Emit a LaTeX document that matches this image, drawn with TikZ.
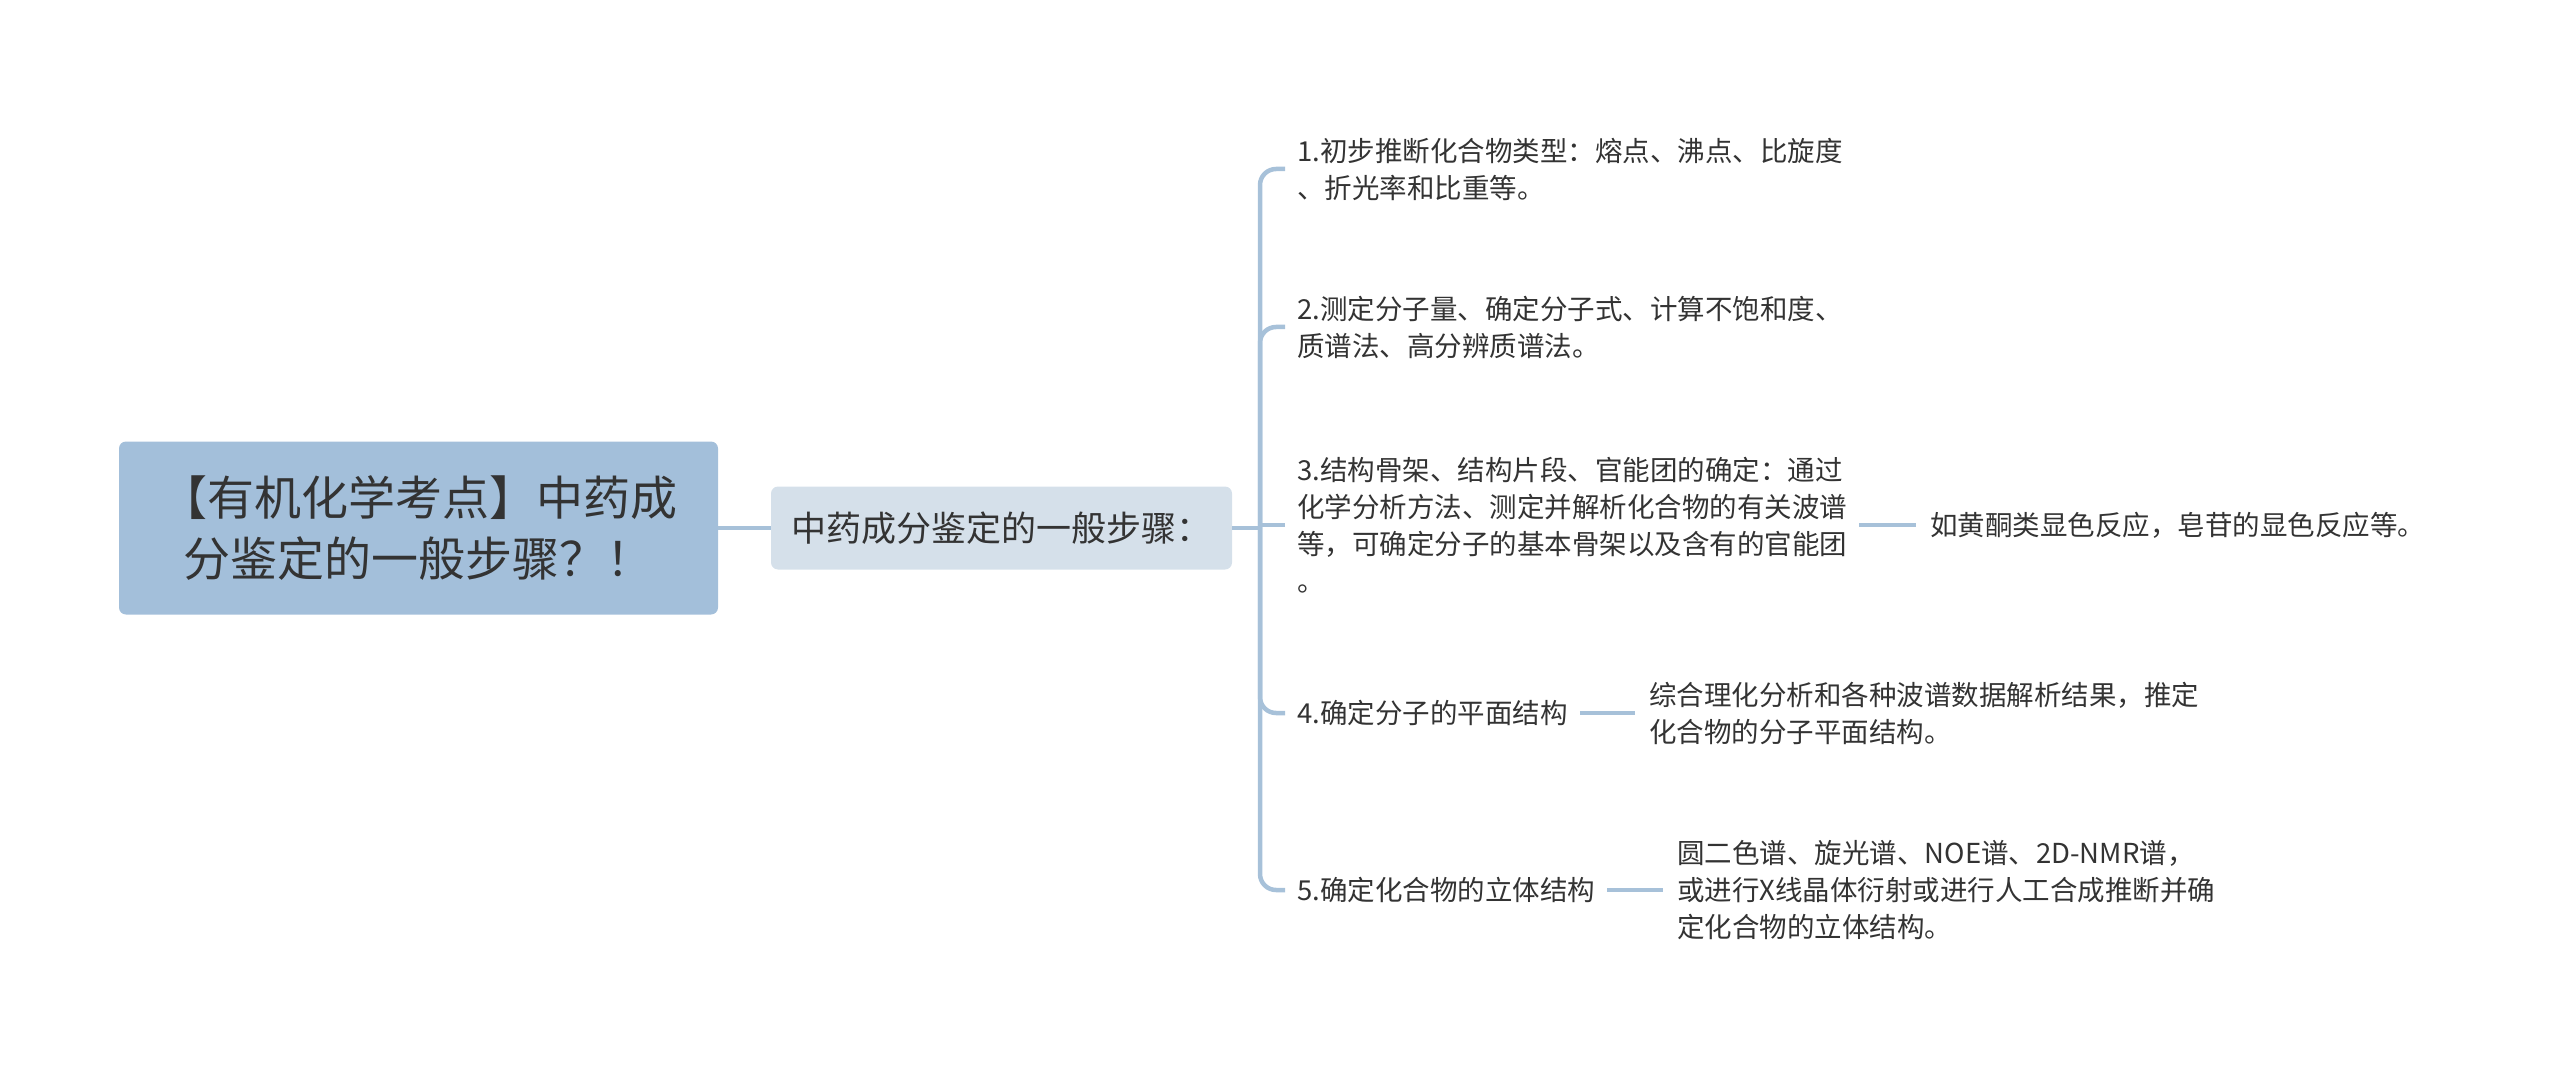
\documentclass[tikz,border=0pt]{standalone}
\usepackage{fontspec}
\setmainfont{Noto Sans CJK SC}
\usetikzlibrary{positioning}
\definecolor{rootfill}{HTML}{A3BFDA}
\definecolor{subfill}{HTML}{D5E0EA}
\definecolor{linkblue}{HTML}{A7C1D9}
\definecolor{textgray}{HTML}{333333}

\begin{document}
\begin{tikzpicture}[x=1pt, y=-1pt,
    rootbox/.style={rectangle, fill=rootfill, rounded corners=7pt, minimum width=599pt, minimum height=173pt, align=center, font=\fontsize{47}{61}\selectfont},
    subbox/.style={rectangle, fill=subfill, rounded corners=7pt, minimum width=461pt, minimum height=83pt, align=center, font=\fontsize{35}{40}\selectfont},
    leaf/.style={anchor=west, align=left, inner xsep=12pt, inner ysep=0pt, font=\fontsize{27.5}{37}\selectfont},
    link/.style={draw=linkblue, line width=4.5pt},
    every node/.style={text=textgray}
]
    \useasboundingbox (0,0) rectangle (2560,1075);

    \node[rootbox] (root) at (418.5,528) {【有机化学考点】中药成\\分鉴定的一般步骤？！};
    \node[subbox] (sub) at (1001.5,528) {中药成分鉴定的一般步骤：};
    \coordinate (spine) at (1260,528);

    \node[leaf] (s1) at (1285,169) {1.初步推断化合物类型：熔点、沸点、比旋度\\、折光率和比重等。};
    \node[leaf] (s2) at (1285,327) {2.测定分子量、确定分子式、计算不饱和度、\\质谱法、高分辨质谱法。};
    \node[leaf] (s3) at (1285,525) {3.结构骨架、结构片段、官能团的确定：通过\\化学分析方法、测定并解析化合物的有关波谱\\等，可确定分子的基本骨架以及含有的官能团\\。};
    \node[leaf] (s4) at (1285,713) {4.确定分子的平面结构};
    \node[leaf] (s5) at (1285,890) {5.确定化合物的立体结构};

    \node[leaf, inner xsep=14pt] (n3) at (1916,525) {如黄酮类显色反应，皂苷的显色反应等。};
    \node[leaf, inner xsep=14pt] (n4) at (1635,713) {综合理化分析和各种波谱数据解析结果，推定\\化合物的分子平面结构。};
    \node[leaf, inner xsep=14pt] (n5) at (1663,890) {圆二色谱、旋光谱、NOE谱、2D-NMR谱，\\或进行X线晶体衍射或进行人工合成推断并确\\定化合物的立体结构。};

    \draw[link] (root) -- (sub);
    \draw[link] (sub) -- (spine);
    \draw[link, rounded corners=16pt] (s1.west) -| (spine) |- (s5.west);
    \draw[link, rounded corners=16pt] (spine) |- (s2.west);
    \draw[link, rounded corners=16pt] (spine) |- (s4.west);
    \draw[link] (s3.west) -- (s3.west -| spine);
    \draw[link] (s3) -- (n3);
    \draw[link] (s4) -- (n4);
    \draw[link] (s5) -- (n5);
\end{tikzpicture}
\end{document}
